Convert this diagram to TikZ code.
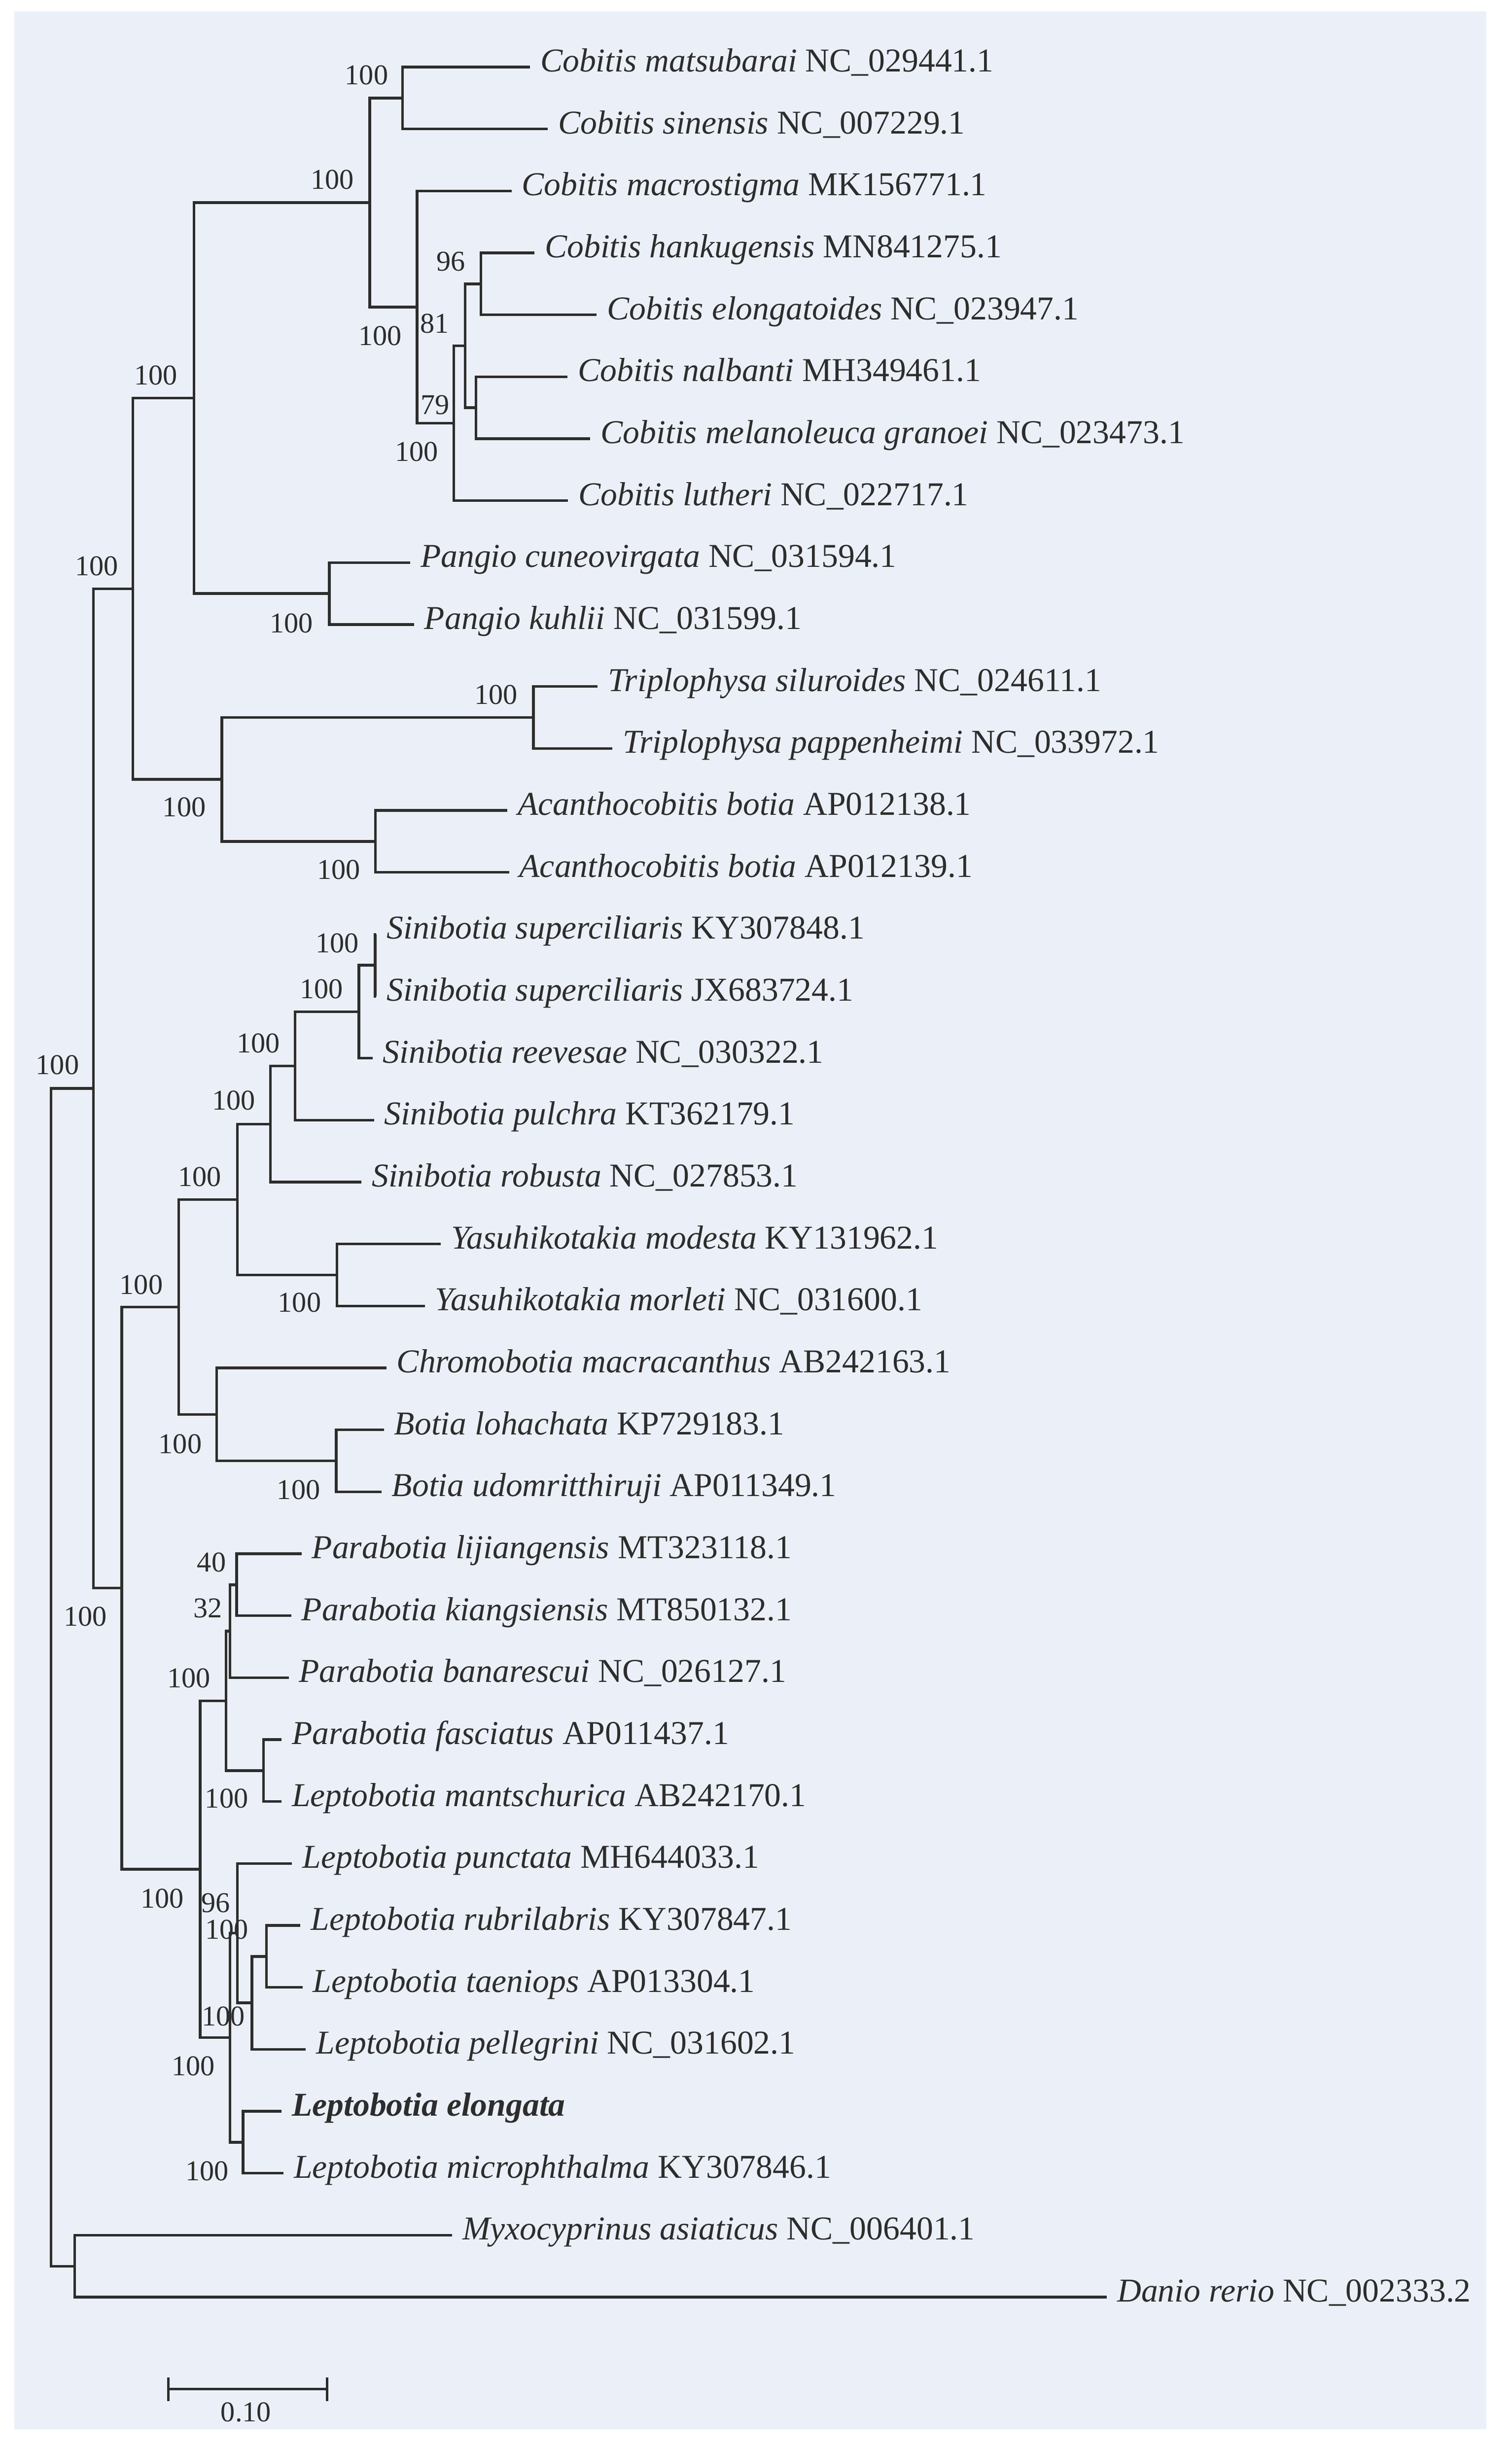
\documentclass[tikz,border=0pt]{standalone}
\usepackage{fontspec}
\setmainfont{Liberation Serif}
\definecolor{panel}{RGB}{235,240,248}
\definecolor{ink}{RGB}{45,45,45}
\tikzset{
  tip/.style={anchor=west, inner xsep=6.5pt, inner ysep=0pt, text height=0.6em, text depth=0pt,
    font=\fontsize{21.5}{24}\selectfont, text=ink},
  boot/.style={inner sep=0pt, font=\fontsize{18.5}{21}\selectfont, text=ink},
  branch/.style={draw=ink, line width=1.7pt}
}
\begin{document}
\begin{tikzpicture}[x=1pt, y=-39.92pt]
% Page and panel
\useasboundingbox[fill=white] (0pt,43.2pt) rectangle (974pt,-1531.8pt);
\fill[panel] (9.3pt,35.8pt) rectangle (957.8pt,-1522.1pt);
% Tips
\node[tip] (t0) at (341.5,0) {\textit{Cobitis matsubarai} NC\_029441.1};
\node[tip] (t1) at (353,1) {\textit{Cobitis sinensis} NC\_007229.1};
\node[tip] (t2) at (329.6,2) {\textit{Cobitis macrostigma} MK156771.1};
\node[tip] (t3) at (344.4,3) {\textit{Cobitis hankugensis} MN841275.1};
\node[tip] (t4) at (384.5,4) {\textit{Cobitis elongatoides} NC\_023947.1};
\node[tip] (t5) at (365.7,5) {\textit{Cobitis nalbanti} MH349461.1};
\node[tip] (t6) at (380.4,6) {\textit{Cobitis melanoleuca granoei} NC\_023473.1};
\node[tip] (t7) at (366,7) {\textit{Cobitis lutheri} NC\_022717.1};
\node[tip] (t8) at (264.3,8) {\textit{Pangio cuneovirgata} NC\_031594.1};
\node[tip] (t9) at (266.8,9) {\textit{Pangio kuhlii} NC\_031599.1};
\node[tip] (t10) at (385,10) {\textit{Triplophysa siluroides} NC\_024611.1};
\node[tip] (t11) at (394.6,11) {\textit{Triplophysa pappenheimi} NC\_033972.1};
\node[tip] (t12) at (327,12) {\textit{Acanthocobitis botia} AP012138.1};
\node[tip] (t13) at (328,13) {\textit{Acanthocobitis botia} AP012139.1};
\node[tip] (t14) at (242.5,14) {\textit{Sinibotia superciliaris} KY307848.1};
\node[tip] (t15) at (242.5,15) {\textit{Sinibotia superciliaris} JX683724.1};
\node[tip] (t16) at (240,16) {\textit{Sinibotia reevesae} NC\_030322.1};
\node[tip] (t17) at (241,17) {\textit{Sinibotia pulchra} KT362179.1};
\node[tip] (t18) at (232.9,18) {\textit{Sinibotia robusta} NC\_027853.1};
\node[tip] (t19) at (284,19) {\textit{Yasuhikotakia modesta} KY131962.1};
\node[tip] (t20) at (273.7,20) {\textit{Yasuhikotakia morleti} NC\_031600.1};
\node[tip] (t21) at (249,21) {\textit{Chromobotia macracanthus} AB242163.1};
\node[tip] (t22) at (247.4,22) {\textit{Botia lohachata} KP729183.1};
\node[tip] (t23) at (245.8,23) {\textit{Botia udomritthiruji} AP011349.1};
\node[tip] (t24) at (194.3,24) {\textit{Parabotia lijiangensis} MT323118.1};
\node[tip] (t25) at (187.6,25) {\textit{Parabotia kiangsiensis} MT850132.1};
\node[tip] (t26) at (186,26) {\textit{Parabotia banarescui} NC\_026127.1};
\node[tip] (t27) at (181.4,27) {\textit{Parabotia fasciatus} AP011437.1};
\node[tip] (t28) at (181.4,28) {\textit{Leptobotia mantschurica} AB242170.1};
\node[tip] (t29) at (188.2,29) {\textit{Leptobotia punctata} MH644033.1};
\node[tip] (t30) at (193.6,30) {\textit{Leptobotia rubrilabris} KY307847.1};
\node[tip] (t31) at (195,31) {\textit{Leptobotia taeniops} AP013304.1};
\node[tip] (t32) at (197.1,32) {\textit{Leptobotia pellegrini} NC\_031602.1};
\node[tip] (t33) at (181.4,33) {\textbf{\textit{Leptobotia elongata}}};
\node[tip] (t34) at (182.7,34) {\textit{Leptobotia microphthalma} KY307846.1};
\node[tip] (t35) at (291.3,35) {\textit{Myxocyprinus asiaticus} NC\_006401.1};
\node[tip] (t36) at (713.2,36) {\textit{Danio rerio} NC\_002333.2};
% Internal nodes
\coordinate (c01) at (259.4,0.5);
\coordinate (c34) at (309.8,3.5);
\coordinate (c56) at (306.7,5.5);
\coordinate (c36) at (299.8,4.5);
\coordinate (c37) at (292.5,5.75);
\coordinate (c27) at (268.7,3.875);
\coordinate (c07) at (238.3,2.1875);
\coordinate (p89) at (212.2,8.5);
\coordinate (cp) at (124.9,5.34375);
\coordinate (tr) at (343.7,10.5);
\coordinate (ac) at (242,12.5);
\coordinate (ta) at (142.9,11.5);
\coordinate (cpta) at (85.7,8.421875);
\coordinate (s1415) at (241.7,14.5);
\coordinate (s1416) at (231.3,15.25);
\coordinate (s1417) at (190.2,16.125);
\coordinate (s1418) at (174.2,17.0625);
\coordinate (ya) at (217.2,19.5);
\coordinate (sy) at (152.9,18.28125);
\coordinate (bo) at (216.6,22.5);
\coordinate (cb) at (139.7,21.75);
\coordinate (syb) at (115.2,20.015625);
\coordinate (p2425) at (152.5,24.5);
\coordinate (p2426) at (148.2,25.25);
\coordinate (f2728) at (169.8,27.5);
\coordinate (p2428) at (145.6,26.375);
\coordinate (l3031) at (171.8,30.5);
\coordinate (l3032) at (162.3,31.25);
\coordinate (l2932) at (153,30.125);
\coordinate (l3334) at (156.6,33.5);
\coordinate (l2934) at (148.2,31.8125);
\coordinate (pl) at (129,29.09375);
\coordinate (bot) at (78.5,24.5546875);
\coordinate (loach) at (60.3,16.48828);
\coordinate (md) at (48.2,35.5);
\coordinate (root) at (32.8,25.99414);
% Branches
\foreach \p/\c in {c01/t0.west, c01/t1.west, c34/t3.west, c34/t4.west, c56/t5.west, c56/t6.west,
  c36/c34, c36/c56, c37/c36, c37/t7.west, c27/t2.west, c27/c37, c07/c01, c07/c27,
  p89/t8.west, p89/t9.west, cp/c07, cp/p89, tr/t10.west, tr/t11.west, ac/t12.west, ac/t13.west,
  ta/tr, ta/ac, cpta/cp, cpta/ta,
  s1415/t14.west, s1415/t15.west, s1416/s1415, s1416/t16.west, s1417/s1416, s1417/t17.west,
  s1418/s1417, s1418/t18.west, ya/t19.west, ya/t20.west, sy/s1418, sy/ya,
  bo/t22.west, bo/t23.west, cb/t21.west, cb/bo, syb/sy, syb/cb,
  p2425/t24.west, p2425/t25.west, p2426/p2425, p2426/t26.west, f2728/t27.west, f2728/t28.west,
  p2428/p2426, p2428/f2728, l3031/t30.west, l3031/t31.west, l3032/l3031, l3032/t32.west,
  l2932/t29.west, l2932/l3032, l3334/t33.west, l3334/t34.west, l2934/l2932, l2934/l3334,
  pl/p2428, pl/l2934, bot/syb, bot/pl, loach/cpta, loach/bot,
  md/t35.west, md/t36.west, root/loach, root/md}
  \draw[branch] (\p) |- (\c);
% Bootstrap values
\node[boot] (b-c01) at (236.2,0.130) {100};
\node[boot] (b-c07) at (214.1,1.821) {100};
\node[boot] (b-c34) at (290.4,3.141) {96};
\node[boot] (b-c36) at (280,4.143) {81};
\node[boot] (b-c27) at (244.9,4.341) {100};
\node[boot] (b-c56) at (280.3,5.451) {79};
\node[boot] (b-c37) at (268.4,6.210) {100};
\node[boot] (b-cp) at (100.4,4.975) {100};
\node[boot] (b-cpta) at (62.2,8.056) {100};
\node[boot] (b-p89) at (187.7,8.980) {100};
\node[boot] (b-tr) at (319.5,10.133) {100};
\node[boot] (b-ta) at (118.7,11.951) {100};
\node[boot] (b-ac) at (218.2,12.956) {100};
\node[boot] (b-s1415) at (217.2,14.143) {100};
\node[boot] (b-s1416) at (207.2,14.882) {100};
\node[boot] (b-s1417) at (166.4,15.759) {100};
\node[boot] (b-s1418) at (150.7,16.683) {100};
\node[boot] (b-sy) at (128.7,17.918) {100};
\node[boot] (b-loach) at (37,16.110) {100};
\node[boot] (b-syb) at (91,19.657) {100};
\node[boot] (b-ya) at (193,19.947) {100};
\node[boot] (b-cb) at (116.1,22.230) {100};
\node[boot] (b-bo) at (192.4,22.968) {100};
\node[boot] (b-p2425) at (136.3,24.136) {40};
\node[boot] (b-p2426) at (134,24.880) {32};
\node[boot] (b-p2428) at (121.8,26.006) {100};
\node[boot] (b-f2728) at (146,27.951) {100};
\node[boot] (b-bot) at (55,25.012) {100};
\node[boot] (b-pl) at (104.5,29.562) {100};
\node[boot] (b-l2932) at (139,29.636) {96};
\node[boot] (b-l3031) at (146.1,30.065) {100};
\node[boot] (b-l3032) at (144,31.465) {100};
\node[boot] (b-l2934) at (124.6,32.269) {100};
\node[boot] (b-l3334) at (133.4,33.968) {100};
% Scale bar
\coordinate (s0) at (108.5,37.485);
\coordinate (s1) at (210.8,37.485);
\draw[branch] (s0) -- (s1);
\draw[branch] ([yshift=7.6pt]s0) -- ([yshift=-7.6pt]s0);
\draw[branch] ([yshift=7.6pt]s1) -- ([yshift=-7.6pt]s1);
\node[boot] (scale) at (158.5,37.856) {0.10};
\end{tikzpicture}
\end{document}
